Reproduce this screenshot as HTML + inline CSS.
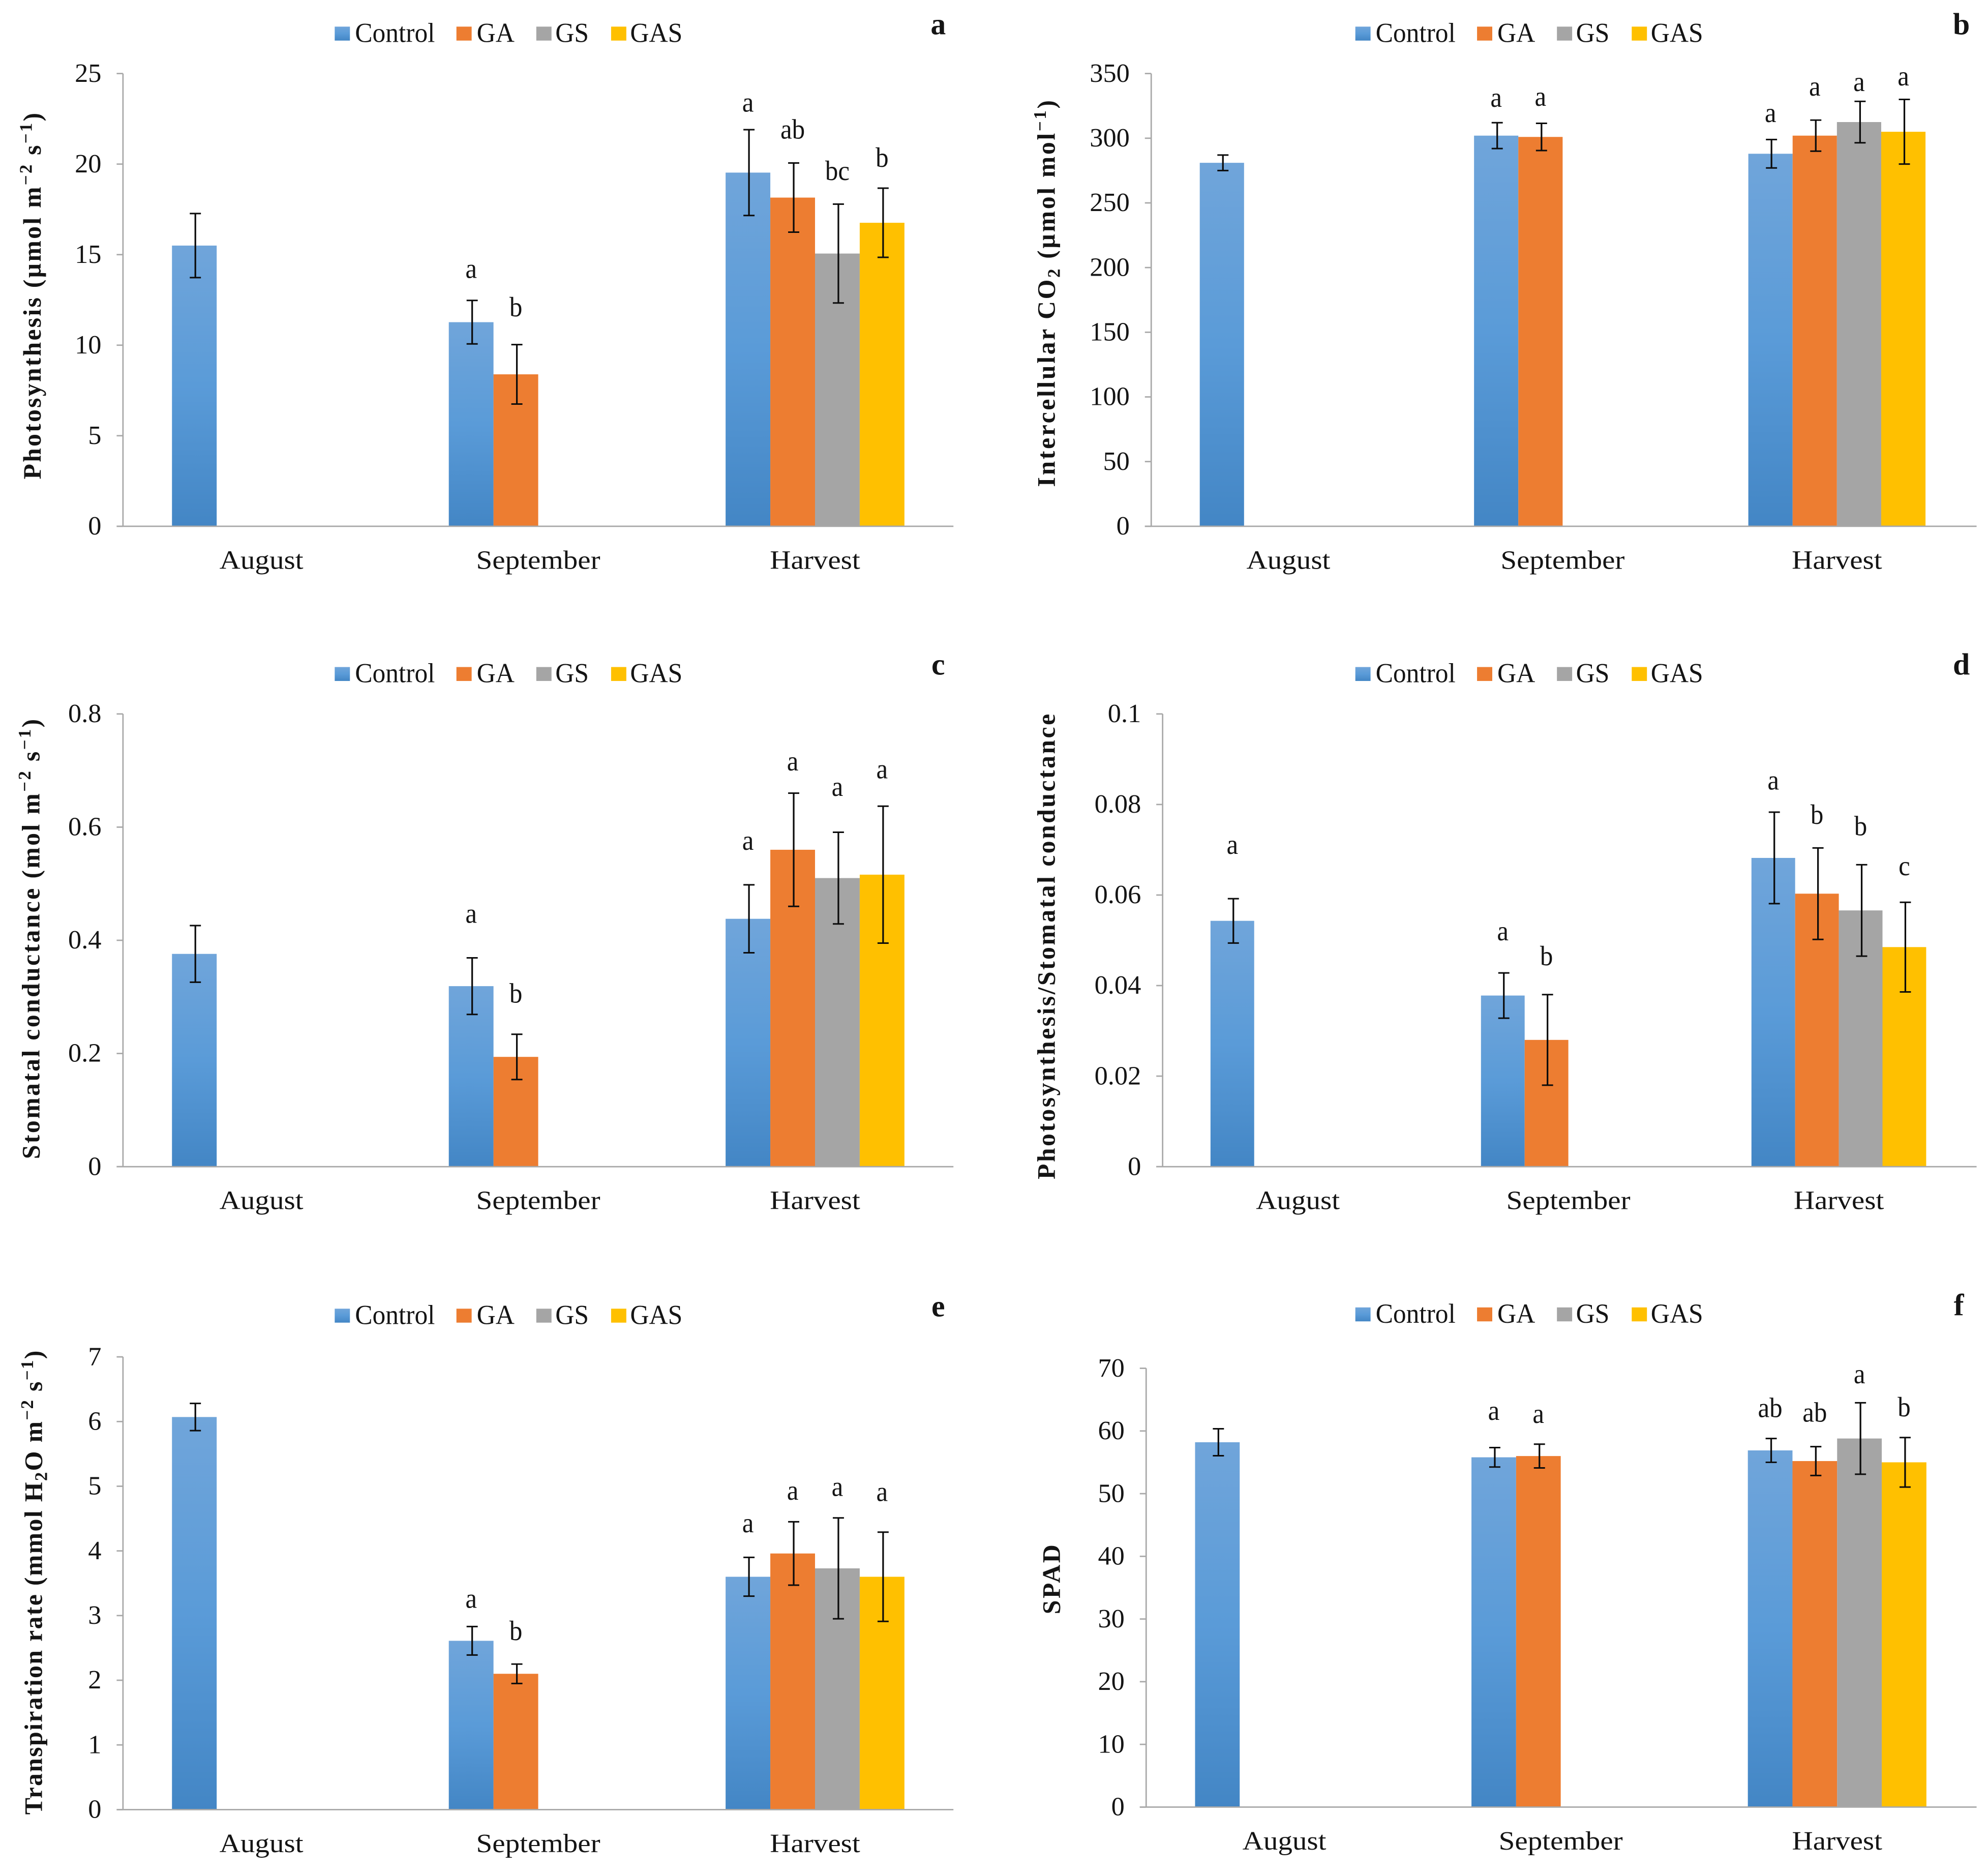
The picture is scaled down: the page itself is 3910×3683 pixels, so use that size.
<!DOCTYPE html>
<html lang="en">
<head>
<meta charset="utf-8">
<title>Gas exchange and SPAD charts</title>
<style>
html,body{margin:0;padding:0;background:#fff;}
svg{display:block;}
text{font-family:"Liberation Serif",serif;fill:#141414;}
</style>
</head>
<body>
<svg id="figure" xmlns="http://www.w3.org/2000/svg" width="3910" height="3683" viewBox="0 0 1568 1477" preserveAspectRatio="none">
<defs>
<linearGradient id="controlFill" x1="0" y1="0" x2="0" y2="1">
<stop offset="0" stop-color="#70a5da"/>
<stop offset="0.5" stop-color="#5a9bd8"/>
<stop offset="1" stop-color="#4386c5"/>
</linearGradient>
</defs>
</svg>
<script>
const categories = ['August', 'September', 'Harvest'];
const seriesNames = ['Control', 'GA', 'GS', 'GAS'];

const aTicks = [0, 5, 10, 15, 20, 25];
const aMeans = [[15.5], [11.27, 8.39], [19.53, 18.15, 15.06, 16.76]];
const aErrors = [[1.77], [1.2, 1.64], [2.37, 1.91, 2.73, 1.91]];
const aLetters = [[''], ['a', 'b'], ['a', 'ab', 'bc', 'b']];
const aLifts = [[0], [1.24, 1.57], [1.0, 1.35, 1.33, 1.18]];

const bTicks = [0, 50, 100, 150, 200, 250, 300, 350];
const bMeans = [[281], [302, 301], [288, 302, 312.5, 305]];
const bErrors = [[6], [10, 10.5], [11, 12, 16, 25]];
const bLetters = [[''], ['a', 'a'], ['a', 'a', 'a', 'a']];
const bLifts = [[0], [12.3, 13.5], [13.5, 18.9, 8, 10.8]];

const cTicks = [0, 0.2, 0.4, 0.6, 0.8];
const cMeans = [[0.376], [0.319, 0.194], [0.438, 0.56, 0.51, 0.516]];
const cErrors = [[0.05], [0.05, 0.04], [0.06, 0.1, 0.081, 0.121]];
const cLetters = [[''], ['a', 'b'], ['a', 'a', 'a', 'a']];
const cLifts = [[0], [0.062, 0.056], [0.062, 0.04, 0.064, 0.049]];

const dTicks = [0, 0.02, 0.04, 0.06, 0.08, 0.1];
const dMeans = [[0.0543], [0.0378, 0.028], [0.0682, 0.0603, 0.0566, 0.0485]];
const dErrors = [[0.0049], [0.005, 0.01], [0.0101, 0.0101, 0.0101, 0.0099]];
const dLetters = [['a'], ['a', 'b'], ['a', 'b', 'b', 'c']];
const dLifts = [[0.0099], [0.0072, 0.0065], [0.005, 0.0053, 0.0065, 0.006]];

const eTicks = [0, 1, 2, 3, 4, 5, 6, 7];
const eMeans = [[6.07], [2.61, 2.1], [3.6, 3.96, 3.73, 3.6]];
const eErrors = [[0.21], [0.22, 0.15], [0.3, 0.49, 0.78, 0.69]];
const eLetters = [[''], ['a', 'b'], ['a', 'a', 'a', 'a']];
const eLifts = [[0], [0.29, 0.37], [0.39, 0.34, 0.34, 0.48]];

const fTicks = [0, 10, 20, 30, 40, 50, 60, 70];
const fMeans = [[58.2], [55.8, 56], [56.9, 55.2, 58.8, 55]];
const fErrors = [[2.15], [1.55, 1.9], [1.9, 2.3, 5.7, 3.95]];
const fLetters = [[''], ['a', 'a'], ['ab', 'ab', 'a', 'b']];
const fLifts = [[0], [4.4, 3.4], [3.4, 4, 3.1, 3.4]];

const seriesFills = ['url(#controlFill)', '#ed7d31', '#a5a5a5', '#ffc000'];
const svg = document.getElementById('figure');
const NS = 'http://www.w3.org/2000/svg';

function mk(parent, tag, attrs) {
  const el = document.createElementNS(NS, tag);
  for (const k in attrs) el.setAttribute(k, attrs[k]);
  parent.appendChild(el);
  return el;
}

function txt(parent, x, y, str, anchor, size, sx, weight) {
  const el = mk(parent, 'text', {
    transform: 'translate(' + x + ' ' + y + ') scale(' + sx + ' 1)',
    'text-anchor': anchor,
    'font-size': size
  });
  if (weight) el.setAttribute('font-weight', weight);
  el.textContent = str;
  return el;
}

function drawTitle(parent, p) {
  const el = mk(parent, 'text', {
    transform: 'translate(' + p.titleX + ' ' + (p.titleStart + p.titleEnd) / 2 + ') rotate(-90)',
    'text-anchor': 'middle',
    'font-size': 20,
    'font-weight': 'bold',
    textLength: p.titleEnd - p.titleStart,
    lengthAdjust: 'spacing'
  });
  
  
  p.title.forEach(function (part) {
    const t = mk(el, 'tspan', {});
    t.textContent = part[0];
    if (part[1] === 'sup') { t.setAttribute('dy', '-7'); t.setAttribute('font-size', '14'); }
    if (part[1] === 'sub') { t.setAttribute('dy', '4'); t.setAttribute('font-size', '14'); }
    if (part[1] === 'back-up') { t.setAttribute('dy', '7'); }
    if (part[1] === 'back-down') { t.setAttribute('dy', '-4'); }
  });
}

function drawLegend(parent, lx, ly) {
  const swatchOffsets = [0, 96, 159, 218];
  const textOffsets = [16, 112, 174, 233];
  const g = mk(parent, 'g', {});
  
  
  seriesNames.forEach(function (name, i) {
    const entry = mk(g, 'g', {});
    
    
    const sw = mk(entry, 'rect', { x: lx + swatchOffsets[i], y: ly - 6, width: 12, height: 11, fill: seriesFills[i] });
    
    
    const t = txt(entry, lx + textOffsets[i], ly + 6, name, 'start', 21.5, 0.96);
    
    
  });
}

function drawPanel(p) {
  const g = mk(svg, 'g', {});
  
  

  const maxV = p.ticks[p.ticks.length - 1];
  const y = function (v) { return p.bottom - (v / maxV) * (p.bottom - p.top); };
  const step = (p.plotRight - p.left) / categories.length;
  const catCentre = function (i) { return p.left + step * (i + 0.5); };
  const barW = step * 0.646 / seriesNames.length;
  const barX = function (c, s) { return catCentre(c) - 2 * barW + s * barW; };

  drawLegend(g, p.legendX, p.legendY);

  const tag = txt(g, p.tagX, p.tagY, p.id, 'middle', 24, 1, 'bold');
  
  

  drawTitle(g, p);

  p.means.forEach(function (group, c) {
    group.forEach(function (v, s) {
      const bar = mk(g, 'rect', { x: barX(c, s), y: y(v), width: barW, height: p.bottom - y(v), fill: seriesFills[s] });
      
      
    });
  });

  const yAxis = mk(g, 'line', { x1: p.left, x2: p.left, y1: p.top, y2: p.bottom, stroke: '#a8a8a8', 'stroke-width': 1.1 });
  
  
  const xAxis = mk(g, 'line', { x1: p.left - 5, x2: p.right, y1: p.bottom, y2: p.bottom, stroke: '#a8a8a8', 'stroke-width': 1.1 });
  
  

  p.ticks.forEach(function (t) {
    const tick = mk(g, 'line', { x1: p.left - 5, x2: p.left, y1: y(t), y2: y(t), stroke: '#a8a8a8', 'stroke-width': 1.1 });
    
    
    const lab = txt(g, p.left - 17, y(t) + 6.5, String(t), 'end', 21, 1.0);
    
    
  });

  categories.forEach(function (name, c) {
    const lab = txt(g, catCentre(c), p.bottom + 33.5, name, 'middle', 21, 1.09);
    
    
  });

  p.means.forEach(function (group, c) {
    group.forEach(function (v, s) {
      const e = p.errors[c][s];
      const cx = barX(c, s) + barW / 2 + 0.8;
      const stem = mk(g, 'line', { x1: cx, x2: cx, y1: y(v + e), y2: y(v - e), stroke: '#0b0b0b', 'stroke-width': 1.3 });
      
      
      [v + e, v - e].forEach(function (end) {
        const cap = mk(g, 'line', { x1: cx - 4.4, x2: cx + 4.4, y1: y(end), y2: y(end), stroke: '#0b0b0b', 'stroke-width': 1.2 });
        
        
      });
      const letter = p.letters[c][s];
      if (letter) {
        const lt = txt(g, barX(c, s) + barW / 2, y(v + e + p.lifts[c][s]), letter, 'middle', 22, 0.93);
        
        
      }
    });
  });
}

const leftLegendX = 264;
const rightLegendX = 1069;

drawPanel({ id: 'a', ticks: aTicks, means: aMeans, errors: aErrors, letters: aLetters, lifts: aLifts,
  left: 97, right: 752, plotRight: 752, top: 58, bottom: 415, legendX: leftLegendX, legendY: 27, tagX: 740, tagY: 27,
  titleX: 32, titleStart: 89, titleEnd: 378,
  title: [['Photosynthesis (µmol m'], ['−2', 'sup'], [' s', 'back-up'], ['−1', 'sup'], [')', 'back-up']] });

drawPanel({ id: 'b', ticks: bTicks, means: bMeans, errors: bErrors, letters: bLetters, lifts: bLifts,
  left: 908, right: 1559, plotRight: 1557, top: 58, bottom: 415, legendX: rightLegendX, legendY: 27, tagX: 1547, tagY: 27,
  titleX: 832, titleStart: 79, titleEnd: 384,
  title: [['Intercellular CO'], ['2', 'sub'], [' (µmol mol', 'back-down'], ['−1', 'sup'], [')', 'back-up']] });

drawPanel({ id: 'c', ticks: cTicks, means: cMeans, errors: cErrors, letters: cLetters, lifts: cLifts,
  left: 97, right: 752, plotRight: 752, top: 563, bottom: 920, legendX: leftLegendX, legendY: 532, tagX: 740, tagY: 532,
  titleX: 31, titleStart: 567, titleEnd: 914,
  title: [['Stomatal conductance  (mol m'], ['−2', 'sup'], [' s', 'back-up'], ['−1', 'sup'], [')', 'back-up']] });

drawPanel({ id: 'd', ticks: dTicks, means: dMeans, errors: dErrors, letters: dLetters, lifts: dLifts,
  left: 917, right: 1559, plotRight: 1557, top: 563, bottom: 920, legendX: rightLegendX, legendY: 532, tagX: 1547, tagY: 532,
  titleX: 832, titleStart: 563, titleEnd: 930,
  title: [['Photosynthesis/Stomatal conductance']] });

drawPanel({ id: 'e', ticks: eTicks, means: eMeans, errors: eErrors, letters: eLetters, lifts: eLifts,
  left: 97, right: 752, plotRight: 752, top: 1070, bottom: 1427, legendX: leftLegendX, legendY: 1038, tagX: 740, tagY: 1038,
  titleX: 33, titleStart: 1065, titleEnd: 1431,
  title: [['Transpiration rate (mmol H'], ['2', 'sub'], ['O m', 'back-down'], ['−2', 'sup'], [' s', 'back-up'], ['−1', 'sup'], [')', 'back-up']] });

drawPanel({ id: 'f', ticks: fTicks, means: fMeans, errors: fErrors, letters: fLetters, lifts: fLifts,
  left: 904, right: 1559, plotRight: 1558, top: 1079, bottom: 1425, legendX: rightLegendX, legendY: 1037, tagX: 1545, tagY: 1037,
  titleX: 836, titleStart: 1218, titleEnd: 1273,
  title: [['SPAD']] });
</script>
</body>
</html>
